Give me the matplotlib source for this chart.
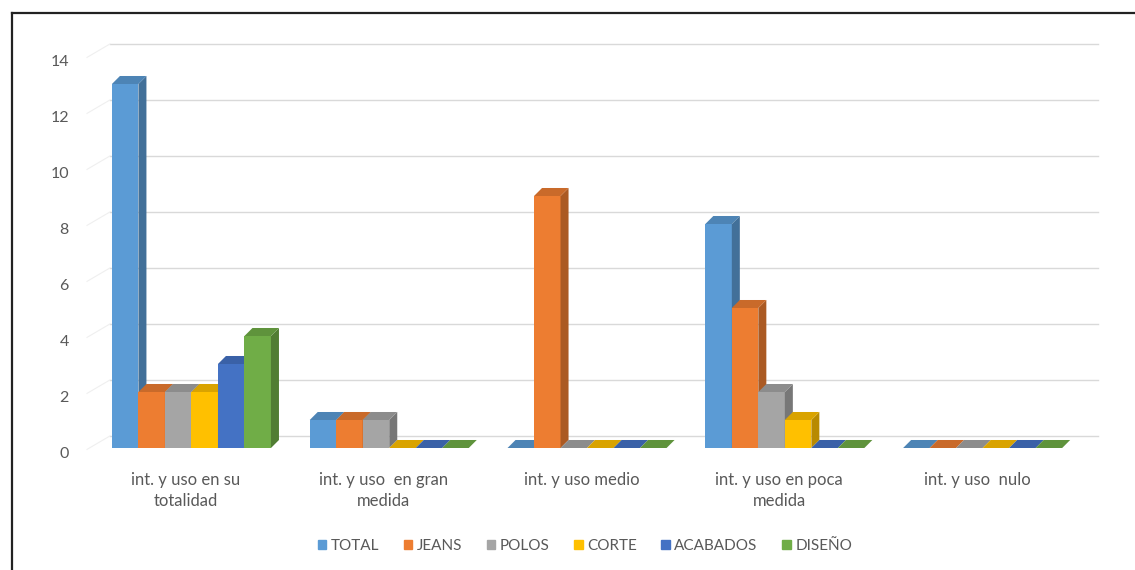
import matplotlib
matplotlib.use("Agg")
import matplotlib.pyplot as plt
from matplotlib.patches import Polygon, Patch
from matplotlib.lines import Line2D
from matplotlib.transforms import ScaledTranslation
import matplotlib.colors as mcolors

# datos
categorias = ["int. y uso en su\ntotalidad", "int. y uso  en gran\nmedida",
              "int. y uso medio", "int. y uso en poca\nmedida", "int. y uso  nulo"]
series = ["TOTAL", "JEANS", "POLOS", "CORTE", "ACABADOS", "DISEÑO"]
total = [13, 1, 0, 8, 0]
jeans = [2, 1, 9, 5, 0]
polos = [2, 1, 0, 2, 0]
corte = [2, 0, 0, 1, 0]
acabados = [3, 0, 0, 0, 0]
diseno = [4, 0, 0, 0, 0]
valores = [total, jeans, polos, corte, acabados, diseno]
colores = ["#5B9BD5", "#ED7D31", "#A5A5A5", "#FFC000", "#4472C4", "#70AD47"]
yticks = [0, 2, 4, 6, 8, 10, 12, 14]

plt.rcParams["font.family"] = ["Lato", "DejaVu Sans"]
gris = "#595959"

W, H = 1135, 570
fig = plt.figure(figsize=(W / 100, H / 100), dpi=100)
ax = fig.add_axes([87 / W, (H - 462) / H, 989 / W, 420 / H])
ax.set_xlim(-0.5, 4.5)
ax.set_ylim(-0.5, 14.5)
for s in ax.spines.values():
    s.set_visible(False)

# profundidad 3D (en unidades de datos)
dx, dy = 0.0405, 0.286
ancho = 0.134
inicio = -0.374

# lineas de la pared del fondo
g_off = 0.43
for v in yticks:
    ax.plot([-0.384, 4.612], [v + g_off, v + g_off], color="#d9d9d9", lw=1.0,
            clip_on=False, zorder=0)
    ax.plot([-0.5, -0.384], [v - 0.05, v + g_off], color="#efefef", lw=0.8,
            clip_on=False, zorder=0)


def oscuro(c, f):
    r, g, b = mcolors.to_rgb(c)
    return (r * f, g * f, b * f)


z = 2
for i in range(len(categorias)):
    for j, vals in enumerate(valores):
        x0 = i + inicio + j * ancho
        h = vals[i]
        c = colores[j]
        ax.bar(x0, h, width=ancho, align="edge", color=c, lw=0, zorder=z)
        lado = Polygon([(x0 + ancho, 0), (x0 + ancho + dx, dy), (x0 + ancho + dx, h + dy),
                        (x0 + ancho, h)], closed=True, color=oscuro(c, 0.72), lw=0, zorder=z)
        tapa = Polygon([(x0, h), (x0 + dx, h + dy), (x0 + ancho + dx, h + dy),
                        (x0 + ancho, h)], closed=True, color=oscuro(c, 0.85), lw=0, zorder=z)
        ax.add_patch(lado)
        ax.add_patch(tapa)
        z += 1

ax.set_yticks(yticks)
ax.set_yticklabels([str(v) for v in yticks], color=gris, fontsize=11.5)
ax.tick_params(axis="y", length=0, pad=13)
for lab in ax.get_yticklabels():
    lab.set_transform(lab.get_transform() + ScaledTranslation(0, -0.05, fig.dpi_scale_trans))

ax.set_xticks(range(len(categorias)))
ax.set_xticklabels(categorias, color=gris, fontsize=12, linespacing=1.4)
ax.tick_params(axis="x", length=0, pad=7)

handles = [Patch(color=c, label=s) for c, s in zip(colores, series)]
fig.legend(handles=handles, loc="center", bbox_to_anchor=(585 / W, 1 - 546 / H), ncol=6,
           frameon=False, fontsize=11, handlelength=0.55, handleheight=0.55,
           handletextpad=0.3, columnspacing=1.6, labelcolor=gris)

# marco
fig.add_artist(Line2D([12 / W, 12 / W], [0, 1 - 13 / H], color="#222222", lw=1.6))
fig.add_artist(Line2D([12 / W, 1], [1 - 13 / H, 1 - 13 / H], color="#222222", lw=1.6))

fig.savefig("out.png", dpi=100)
